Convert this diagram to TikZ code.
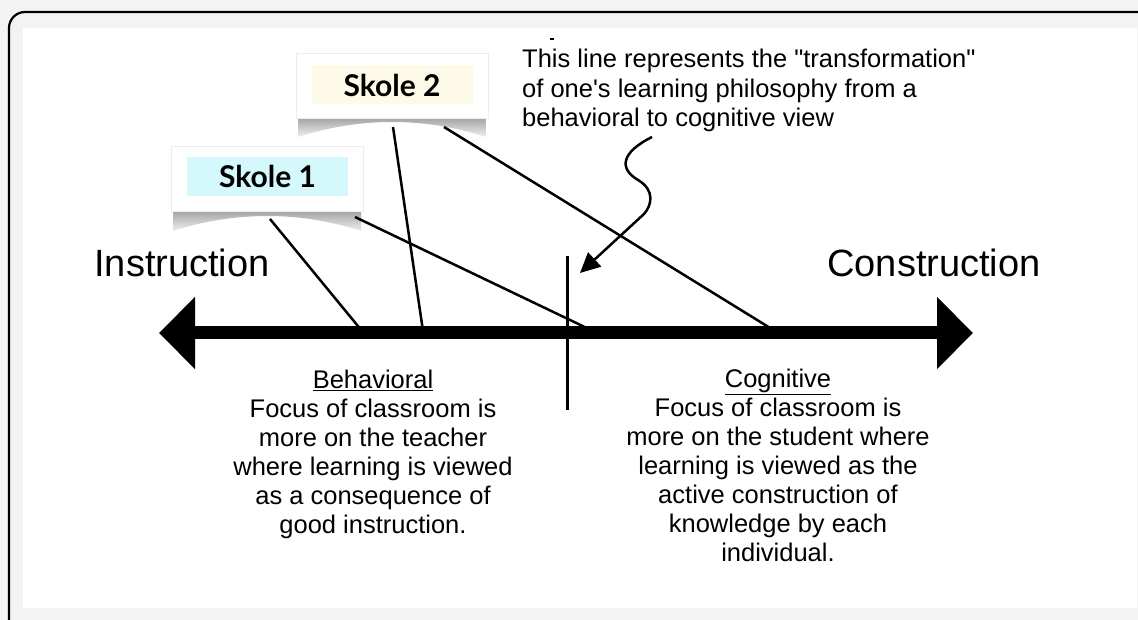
\documentclass[tikz,border=0pt]{standalone}
\usepackage{fontspec}
\setmainfont{Liberation Sans}
\newfontfamily\skolefont{Lato}
\newfontfamily\notefont{Liberation Sans}[Ligatures=TeXOff]
\usetikzlibrary{arrows.meta}
\definecolor{bgc}{HTML}{F3F3F3}
\definecolor{skoleA}{HTML}{D4F8FC}
\definecolor{skoleB}{HTML}{FDFBE7}
\tikzset{
  card/.style={minimum width=192pt, minimum height=65pt, inner sep=0pt, fill=white, draw=black!7, line width=0.8pt},
  skolelabel/.style={minimum width=161pt, minimum height=39pt, inner sep=0pt, font=\skolefont\bfseries\fontsize{30}{34}\selectfont},
  cardshadow/.style={top color=black!45, bottom color=black!6},
  connector/.style={line width=2.5pt},
  bigword/.style={inner sep=0pt, font=\fontsize{38}{42}\selectfont},
  note/.style={inner sep=0pt, align=left, font=\notefont\fontsize{25.5}{29.5}\selectfont},
  para/.style={inner sep=0pt, align=center, font=\fontsize{25.5}{29}\selectfont},
}
\begin{document}
\begin{tikzpicture}[x=1pt,y=-1pt]
\useasboundingbox (0,0) rectangle (1138,620);
\clip (0,0) rectangle (1138,620);
\fill[bgc] (0,0) rectangle (1138,620);
\draw[line width=2.2pt, rounded corners=16pt] (9,12) rectangle (1170,650);
\fill[white] (23,28) rectangle (1137,608);

% cards
\shade[cardshadow] (298,112) -- (298,137) .. controls (360,117) and (425,117) .. (486,137) -- (486,112) -- cycle;
\node[card] (card2) at (392,85.5) {};
\node[skolelabel, fill=skoleB] (lab2) at (392,85) {Skole 2};

\shade[cardshadow] (173,205) -- (173,231) .. controls (235,211) and (300,211) .. (361,231) -- (361,205) -- cycle;
\node[card] (card1) at (267,178.5) {};
\node[skolelabel, fill=skoleA] (lab1) at (267.5,176.5) {Skole 1};

% connector ends
\coordinate (a1) at (270,219);
\coordinate (b1) at (355,217);
\coordinate (c1) at (393,127);
\coordinate (d1) at (444,127);
\coordinate (pA) at (362,331);
\coordinate (pB) at (593,331);
\coordinate (pC) at (423,331);
\coordinate (pD) at (775,331);
\draw[connector] (a1) -- (pA);
\draw[connector] (b1) -- (pB);
\draw[connector] (c1) -- (pC);
\draw[connector] (d1) -- (pD);

% axis
\coordinate (axL) at (159,333);
\coordinate (axR) at (973,333);
\draw[line width=13pt, {Triangle[length=36pt,width=70pt]}-{Triangle[length=36pt,width=70pt]}] (axL) -- (axR);

% divider
\coordinate (vt) at (567,256);
\coordinate (vb) at (567,410);
\draw[line width=3pt] (vt) -- (vb);

% end labels
\node[bigword, anchor=base] (instr) at (182,277) {Instruction};
\node[bigword, anchor=base] (constr) at (934,277) {Construction};

% note
\fill (550,38) rectangle (554,40.5);
\node[note, anchor=north west] (note) at (522,49) {This line represents the "transformation"\\of one's learning philosophy from a\\behavioral to cognitive view};

% wavy arrow
\coordinate (w0) at (652,137);
\coordinate (wtip) at (580,273);
\draw[connector, -{Triangle[length=20pt,width=19pt]}] (w0) .. controls (622,152) and (618,168) .. (638,180) .. controls (655,190) and (652,205) .. (644,214) -- (wtip);

% paragraphs
\node[para, anchor=north] (behav) at (373,370) {\underline{Behavioral}\\Focus of classroom is\\more on the teacher\\where learning is viewed\\as a consequence of\\good instruction.};
\node[para, anchor=north] (cogn) at (778,369) {\underline{Cognitive}\\Focus of classroom is\\more on the student where\\learning is viewed as the\\active construction of\\knowledge by each\\individual.};
\end{tikzpicture}
\end{document}
